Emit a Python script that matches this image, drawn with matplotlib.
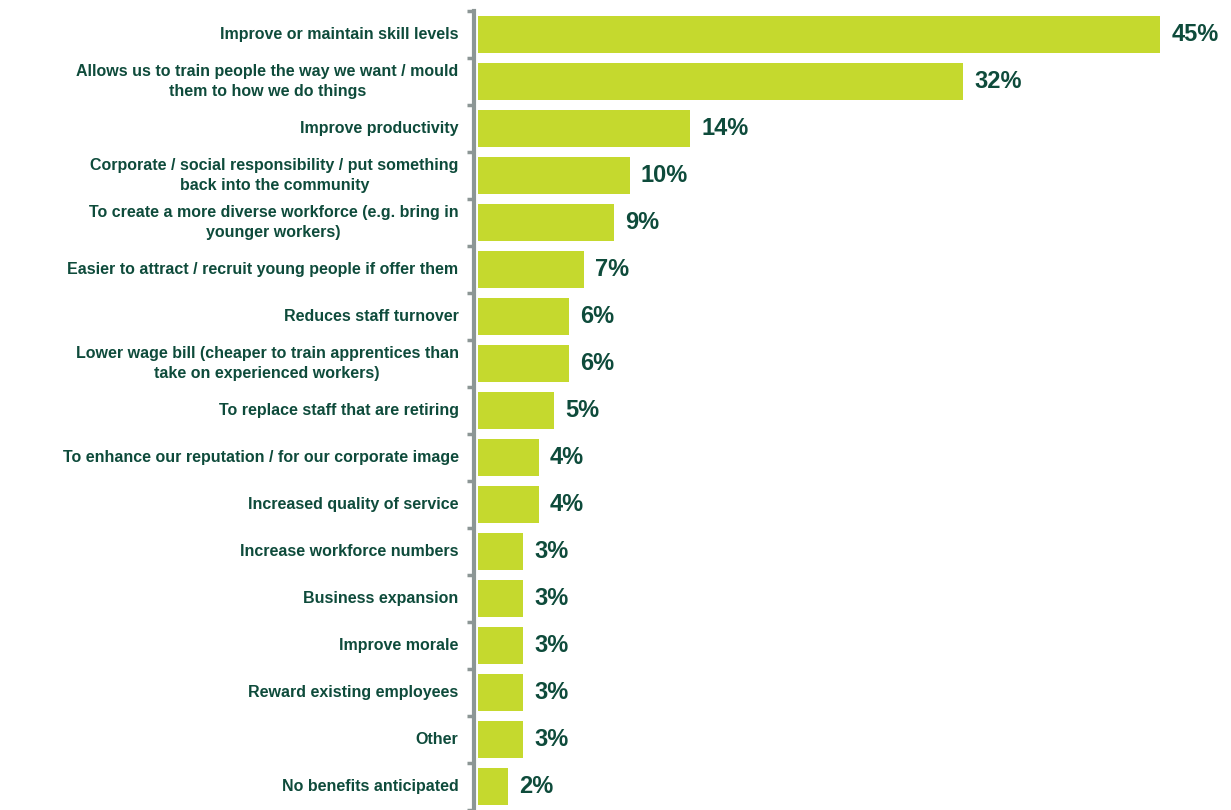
import matplotlib.pyplot as plt

categories = [
    "Improve or maintain skill levels",
    "Allows us to train people the way we want / mould\nthem to how we do things",
    "Improve productivity",
    "Corporate / social responsibility / put something\nback into the community",
    "To create a more diverse workforce (e.g. bring in\nyounger workers)",
    "Easier to attract / recruit young people if offer them",
    "Reduces staff turnover",
    "Lower wage bill (cheaper to train apprentices than\ntake on experienced workers)",
    "To replace staff that are retiring",
    "To enhance our reputation / for our corporate image",
    "Increased quality of service",
    "Increase workforce numbers",
    "Business expansion",
    "Improve morale",
    "Reward existing employees",
    "Other",
    "No benefits anticipated",
]
values = [45, 32, 14, 10, 9, 7, 6, 6, 5, 4, 4, 3, 3, 3, 3, 3, 2]
value_labels = ["45%", "32%", "14%", "10%", "9%", "7%", "6%", "6%", "5%",
                "4%", "4%", "3%", "3%", "3%", "3%", "3%", "2%"]

bar_color = "#C5D92E"
text_color = "#0E4B3B"
axis_color = "#8C9695"

plt.rcParams['font.family'] = ['Liberation Sans', 'DejaVu Sans']

fig = plt.figure(figsize=(12.31, 8.10), dpi=100)
ax = fig.add_axes([478 / 1231, 0, 1 - 478 / 1231, 1 - 11 / 810])

y = list(range(len(values)))
ax.barh(y, values, height=0.8, color=bar_color, zorder=2)

# value labels at bar ends
for yi, v, lab in zip(y, values, value_labels):
    ax.annotate(lab, (v, yi), xytext=(8, 0), textcoords="offset points",
                ha="left", va="center", fontsize=17, fontweight="bold",
                color=text_color)

# category labels left of the axis
for yi, cat in zip(y, categories):
    ax.annotate(cat, (0, yi), xycoords=("axes fraction", "data"),
                xytext=(-14, 0), textcoords="offset points",
                ha="right", va="center", multialignment="center",
                fontsize=11.5, fontweight="bold", color=text_color,
                linespacing=1.4)

ax.set_xlim(0, 49.67)
ax.set_ylim(16.42, -0.487)

# small tick marks between bars
ax.set_yticks([i - 0.5 for i in range(len(values) + 1)])
ax.set_yticklabels([])
ax.tick_params(axis="y", length=5, width=2.5, color=axis_color)
ax.set_xticks([])

for s in ["top", "right", "bottom"]:
    ax.spines[s].set_visible(False)
ax.spines["left"].set_color(axis_color)
ax.spines["left"].set_linewidth(3)
ax.spines["left"].set_position(("outward", 3))

fig.savefig("out.png", dpi=100)
